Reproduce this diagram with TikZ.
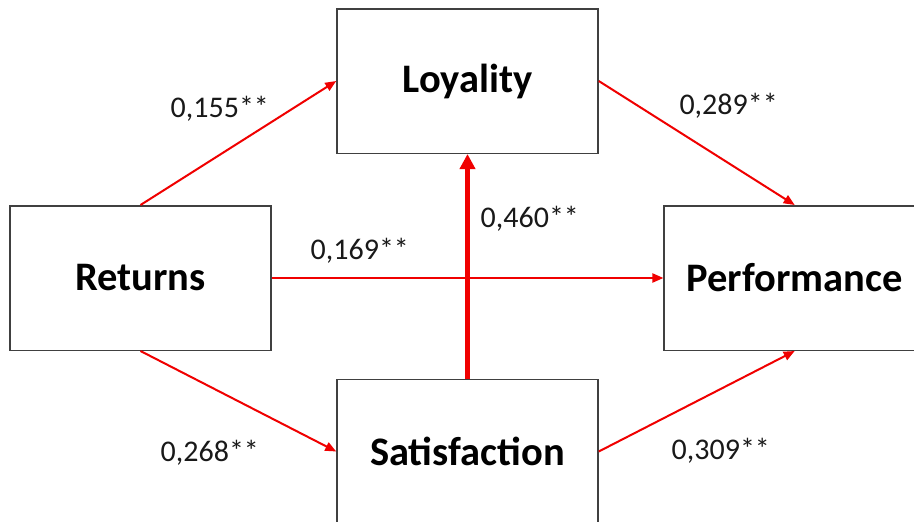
\documentclass[tikz,border=0pt]{standalone}
\usepackage{fontspec}
\setmainfont{Carlito}
\usetikzlibrary{arrows.meta}
\definecolor{boxgray}{HTML}{404040}
\definecolor{arrred}{HTML}{F00000}
\begin{document}
\begin{tikzpicture}[x=1pt,y=-1pt,
  box/.style={draw=boxgray,line width=1.5pt,fill=white,minimum width=261pt,minimum height=144.5pt,inner sep=0pt,font=\fontsize{40.5}{48}\selectfont\bfseries},
  rel/.style={draw=arrred,line width=2pt,-{Triangle[length=11pt,width=9pt]}},
  relthick/.style={draw=arrred,line width=5pt,-{Triangle[length=15pt,width=15pt]}},
  coef/.style={anchor=base west,inner sep=0pt,font=\fontsize{30}{36}\selectfont,text=black!90}]
\clip (0,0) rectangle (914,522);
\fill[white] (0,0) rectangle (914,522);
\node[box] (loy) at (467.5,81) {Loyality};
\node[box] (ret) at (140.5,278) {Returns};
\node[box] (per) at (794.7,278) {Performance};
\node[box] (sat) at (467.5,451.5) {Satisfaction};
\draw[rel] (ret.north) -- (loy.west);
\draw[rel] (loy.east) -- (per.north);
\draw[rel] (ret.east) -- (per.west);
\draw[rel] (ret.south) -- (sat.west);
\draw[rel] (sat.east) -- (per.south);
\draw[relthick] (sat.north) -- (loy.south);
\node[coef] (c1) at (170.5,117) {0,155**};
\node[coef] (c2) at (679.3,114.3) {0,289**};
\node[coef] (c3) at (310.5,259.3) {0,169**};
\node[coef] (c4) at (480.5,227.5) {0,460**};
\node[coef] (c5) at (160.5,461.5) {0,268**};
\node[coef] (c6) at (671.5,459.3) {0,309**};
\end{tikzpicture}
\end{document}
